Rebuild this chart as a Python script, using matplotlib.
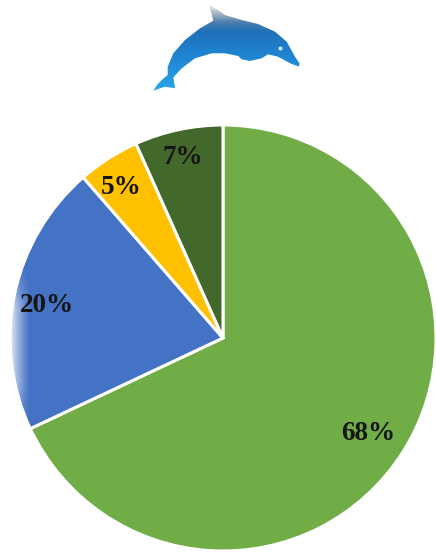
import numpy as np
import matplotlib
matplotlib.use("Agg")
import matplotlib.pyplot as plt
from matplotlib.patches import Polygon
from matplotlib.colors import LinearSegmentedColormap

labels = ["68%", "20%", "5%", "7%"]
shares = [68, 20.6, 4.7, 6.7]
colors = ["#70ad47", "#4472c4", "#ffc000", "#43682b"]
label_pos = [(368, 433), (47, 305), (121, 187), (183, 158)]

W, H = 436, 552


def flip(y):
    return H - y


fig = plt.figure(figsize=(W / 100, H / 100), dpi=100)
ax = fig.add_axes([0, 0, 1, 1])

wedges, _ = ax.pie(shares, colors=colors, startangle=90, counterclock=False,
                   center=(223, flip(338)), radius=213,
                   wedgeprops={"edgecolor": "white", "linewidth": 2.2})

# white fade on the left rim of the blue slice, strongest around y=350
fade = np.ones((64, 64, 4))
across = np.linspace(1, 0, 64) ** 1.3
along = np.clip(1 - np.abs(np.linspace(-1, 1, 64)), 0, 0.5) * 2
fade[..., 3] = np.outer(along, across)
im = ax.imshow(fade, extent=(8, 30, flip(430), flip(265)), aspect="auto", zorder=3)
im.set_clip_path(wedges[1])

for txt, (x, y) in zip(labels, label_pos):
    ax.text(x, flip(y), txt, ha="center", va="center", fontsize=19.5,
            family="Liberation Serif", fontweight="bold", color="#151515", zorder=4)

# dolphin logo, outline
outline = np.array([
    (153.3, 90.7), (157, 85), (161.7, 80), (167.7, 75), (167.7, 66.7), (173.3, 53.3), (185, 40),
    (200, 28.3), (213.3, 20.7), (211, 12), (209, 5), (218, 10), (225, 15), (241.7, 20),
    (258, 24), (275, 31.7), (286.7, 41.7), (295, 56.7), (299.5, 63.3), (299, 66.5), (291.7, 64),
    (278, 56.7), (268, 54.3), (261.7, 58.3), (250, 61), (241.7, 59.3), (238.3, 56), (225, 53.3),
    (211.7, 53.3), (195, 58.3), (181.7, 68.3), (173.3, 77.3), (175, 88.3), (165, 86.7),
])
outline[:, 1] = flip(outline[:, 1])

dolphin_cmap = LinearSegmentedColormap.from_list(
    "dolphin", [(0, "#f4f4f4"), (0.08, "#bcc2c9"), (0.2, "#4f7fae"), (0.3, "#2070b8"),
                (0.55, "#1f82cf"), (0.8, "#2495e0"), (1, "#2ea6ec")])
grad = np.linspace(0, 1, 128).reshape(-1, 1)
body = ax.imshow(grad, cmap=dolphin_cmap, extent=(150, 302, flip(93), flip(4)),
                 aspect="auto", zorder=2)
clip = Polygon(outline, closed=True, transform=ax.transData, facecolor="none", edgecolor="none")
ax.add_patch(clip)
body.set_clip_path(clip)

# eye
ax.scatter([280], [flip(47.7)], s=9, color="#bfe3f7", linewidths=0, zorder=3)

ax.set_xlim(0, W)
ax.set_ylim(0, H)
ax.set_aspect("auto")
ax.axis("off")
fig.savefig("out.png", dpi=100)
